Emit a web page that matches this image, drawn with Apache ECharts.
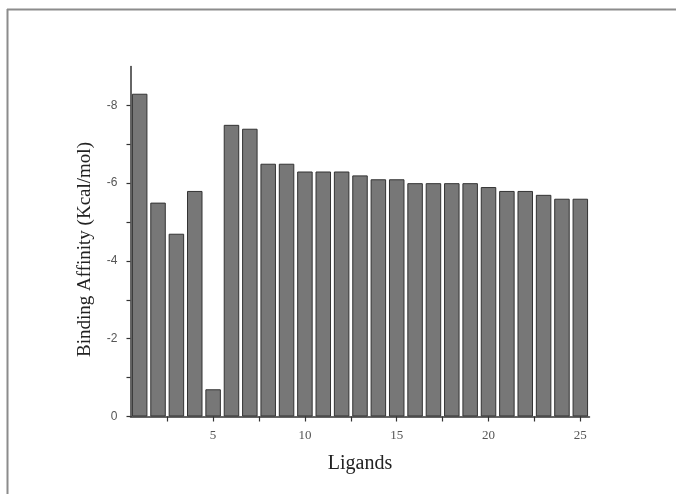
<!DOCTYPE html>
<html>
<head>
<meta charset="utf-8">
<script src="https://cdn.jsdelivr.net/npm/echarts@6/dist/echarts.min.js"></script>
<style>
  html, body { margin: 0; padding: 0; background: #fff; }
  #main { width: 676px; height: 494px; }
</style>
</head>
<body>
<div id="main"></div>
<script>
// ligand index and docking score
var ligands = [1, 2, 3, 4, 5, 6, 7, 8, 9, 10, 11, 12, 13, 14, 15, 16, 17, 18, 19, 20, 21, 22, 23, 24, 25];
var affinity = [-8.3, -5.5, -4.7, -5.8, -0.7, -7.5, -7.4, -6.5, -6.5, -6.3, -6.3, -6.3, -6.2, -6.1, -6.1,
                -6.0, -6.0, -6.0, -6.0, -5.9, -5.8, -5.8, -5.7, -5.6, -5.6];
var xTickLabels = [5, 10, 15, 20, 25];
var xTicks = [2.5, 5, 7.5, 10, 12.5, 15, 17.5, 20, 22.5, 25];
var yTickLabels = [0, -2, -4, -6, -8];
var yTicks = [0, -1, -2, -3, -4, -5, -6, -7, -8];

var chart = echarts.init(document.getElementById('main'));

var barData = ligands.map(function (l, i) { return [l, affinity[i]]; });

var option = {
  backgroundColor: '#fff',
  animation: false,
  grid: { left: 130.5, right: 86.5, top: 66.5, bottom: 77.5 },
  xAxis: {
    type: 'value',
    min: 0.5,
    max: 25.5,
    name: 'Ligands',
    nameLocation: 'middle',
    nameGap: 37,
    nameTextStyle: { fontFamily: 'Liberation Serif', fontSize: 20, color: '#222' },
    axisLine: { show: true, lineStyle: { color: '#333', width: 1.5 } },
    axisTick: { show: true, inside: false, length: 5, customValues: xTicks, lineStyle: { color: '#333', width: 1.2 } },
    axisLabel: { customValues: xTickLabels, fontFamily: 'Liberation Serif', fontSize: 13, color: '#555', margin: 13 },
    splitLine: { show: false }
  },
  yAxis: {
    type: 'value',
    inverse: true,
    min: -9,
    max: 0,
    name: 'Binding Affinity (Kcal/mol)',
    nameLocation: 'middle',
    nameGap: 36,
    nameTextStyle: { fontFamily: 'Liberation Serif', fontSize: 19, color: '#222', padding: [0, 16, 0, 0] },
    axisLine: { show: true, lineStyle: { color: '#333', width: 1.5 } },
    axisTick: { show: true, inside: false, length: 4, customValues: yTicks, lineStyle: { color: '#333', width: 1.2 } },
    axisLabel: { customValues: yTickLabels, fontFamily: 'Liberation Sans', fontSize: 12, color: '#555', margin: 13 },
    splitLine: { show: false }
  },
  series: [{
    type: 'bar',
    data: barData,
    barWidth: 15.5,
    itemStyle: { color: '#777', borderColor: '#333', borderWidth: 1 }
  }],
  graphic: [
    { type: 'line', shape: { x1: 7, y1: 9.5, x2: 676, y2: 9.5 }, style: { stroke: '#8c8c8c', lineWidth: 2 } },
    { type: 'line', shape: { x1: 7.5, y1: 9, x2: 7.5, y2: 494 }, style: { stroke: '#8c8c8c', lineWidth: 2 } }
  ]
};

chart.setOption(option);
</script>
</body>
</html>
